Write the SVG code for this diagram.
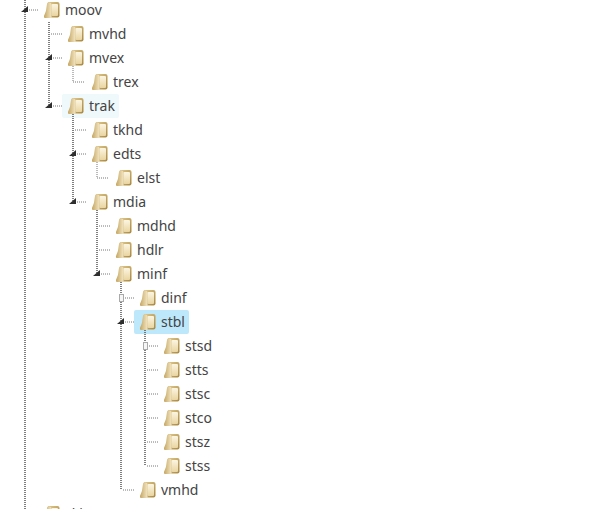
<svg xmlns="http://www.w3.org/2000/svg" width="602" height="509" viewBox="0 0 602 509">
<style>
text{font-family:"Noto Sans","Open Sans",sans-serif;font-size:14px;fill:#444}
.d{fill:none;stroke:#777;stroke-width:1;stroke-dasharray:1 1}
.v{stroke-width:1.500;stroke:#555}
.a{fill:#2e2e2e}
.o{fill:#f6f6f6;stroke:#aaa;stroke-width:1}
</style>
<defs>
<linearGradient id="f" x1="0" x2="1" y1="0" y2="1"><stop offset="0" stop-color="#e0c88c"/><stop offset="1" stop-color="#a8873f"/></linearGradient>
<linearGradient id="g" x1="0" x2="0" y1="0" y2="1"><stop offset="0" stop-color="#fbf5e2"/><stop offset="1" stop-color="#e9d5a0"/></linearGradient>
<linearGradient id="h" x1="0" x2="1" y1="0" y2="0"><stop offset="0" stop-color="#c4a560"/><stop offset="1" stop-color="#f2e6c4"/></linearGradient>
<symbol id="folder" width="18" height="18" viewBox="0 0 18 18">
<path d="M5 1H14.500Q16.500 1 16.500 3V14.500Q16.500 16.500 14.500 16.500H6Z" fill="url(#f)"/>
<rect x="8.500" y="3" width="6.500" height="12" rx="1" fill="url(#g)"/>
<path d="M5 1.500Q8 1 8.500 3V16.500Q8.500 17 7.500 17H2Q.5 17 1 15Q3.500 10 4 3Q4 1.500 5 1.500Z" fill="url(#h)"/>
</symbol>
<path id="arr" class="a" d="M0 0V6H-7Z"/>
</defs>
<rect x="62" y="94" width="57" height="24" rx="2" fill="#eff8fb"/>
<rect x="134" y="310" width="55" height="24" rx="2" fill="#bde8fb"/>
<g id="connectors">
<path class="d v" d="M25 0V509M49 22V106M73 114V202M97 210V274M121 282V490M145 330V466"/>
<path class="d" d="M73 66V82H85M97 162V178H109"/>
<path class="d" d="M27 10H38M51 34H62M51 58H62M51 106H62M75 130H86M75 154H86M75 202H86M99 226H110M99 250H110M99 274H110M123 298H134M123 322H134M123 490H134M147 346H158M147 370H158M147 394H158M147 418H158M147 442H158M147 466H158"/>
<use href="#arr" x="28" y="6"/>
<use href="#arr" x="52" y="54"/>
<use href="#arr" x="52" y="102"/>
<use href="#arr" x="76" y="150"/>
<use href="#arr" x="76" y="198"/>
<use href="#arr" x="100" y="270"/>
<use href="#arr" x="124" y="318"/>
<rect class="o" x="119.500" y="294.500" width="4" height="7"/>
<rect class="o" x="143.500" y="342.500" width="4" height="7"/>
</g>
<g id="moov"><use href="#folder" x="43" y="1"/><text x="65" y="15">moov</text></g>
<g id="mvhd"><use href="#folder" x="67" y="25"/><text x="89" y="39">mvhd</text></g>
<g id="mvex"><use href="#folder" x="67" y="49"/><text x="89" y="63">mvex</text></g>
<g id="trex"><use href="#folder" x="91" y="73"/><text x="113" y="87">trex</text></g>
<g id="trak"><use href="#folder" x="67" y="97"/><text x="89" y="111">trak</text></g>
<g id="tkhd"><use href="#folder" x="91" y="121"/><text x="113" y="135">tkhd</text></g>
<g id="edts"><use href="#folder" x="91" y="145"/><text x="113" y="159">edts</text></g>
<g id="elst"><use href="#folder" x="115" y="169"/><text x="137" y="183">elst</text></g>
<g id="mdia"><use href="#folder" x="91" y="193"/><text x="113" y="207">mdia</text></g>
<g id="mdhd"><use href="#folder" x="115" y="217"/><text x="137" y="231">mdhd</text></g>
<g id="hdlr"><use href="#folder" x="115" y="241"/><text x="137" y="255">hdlr</text></g>
<g id="minf"><use href="#folder" x="115" y="265"/><text x="137" y="279">minf</text></g>
<g id="dinf"><use href="#folder" x="139" y="289"/><text x="161" y="303">dinf</text></g>
<g id="stbl"><use href="#folder" x="139" y="313"/><text x="161" y="327">stbl</text></g>
<g id="stsd"><use href="#folder" x="163" y="337"/><text x="185" y="351">stsd</text></g>
<g id="stts"><use href="#folder" x="163" y="361"/><text x="185" y="375">stts</text></g>
<g id="stsc"><use href="#folder" x="163" y="385"/><text x="185" y="399">stsc</text></g>
<g id="stco"><use href="#folder" x="163" y="409"/><text x="185" y="423">stco</text></g>
<g id="stsz"><use href="#folder" x="163" y="433"/><text x="185" y="447">stsz</text></g>
<g id="stss"><use href="#folder" x="163" y="457"/><text x="185" y="471">stss</text></g>
<g id="vmhd"><use href="#folder" x="139" y="481"/><text x="161" y="495">vmhd</text></g>
<g id="skip"><use href="#folder" x="43" y="505"/><text x="65" y="519">skip</text></g>
</svg>
